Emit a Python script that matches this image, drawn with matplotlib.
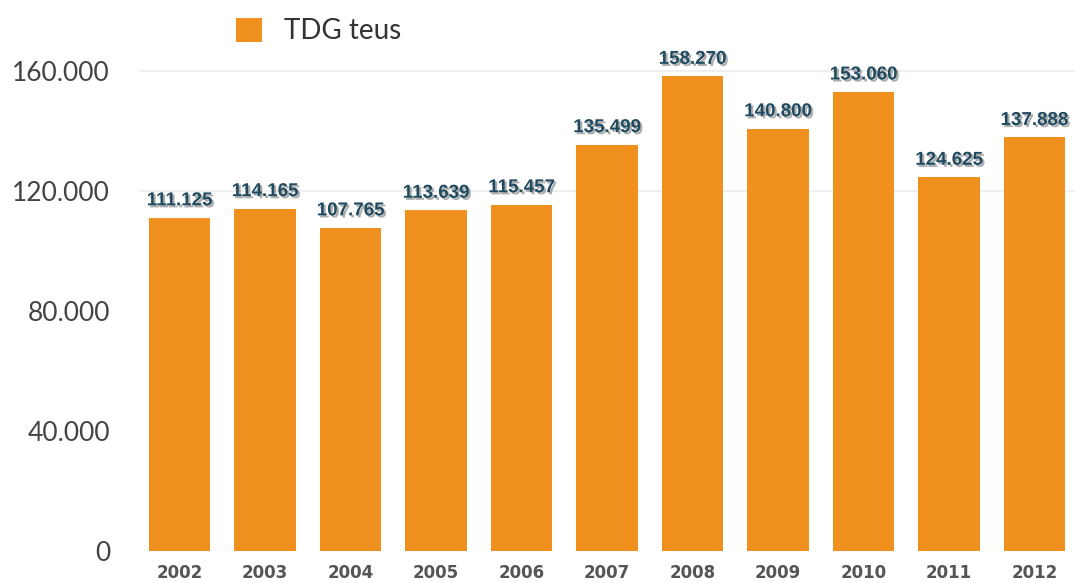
import matplotlib
matplotlib.use("Agg")
import matplotlib.pyplot as plt
import matplotlib.patheffects as pe

years = ["2002", "2003", "2004", "2005", "2006", "2007", "2008", "2009", "2010", "2011", "2012"]
teus = [111125, 114165, 107765, 113639, 115457, 135499, 158270, 140800, 153060, 124625, 137888]
value_labels = ["111.125", "114.165", "107.765", "113.639", "115.457", "135.499",
                "158.270", "140.800", "153.060", "124.625", "137.888"]
y_ticks = [0, 40000, 80000, 120000, 160000]
y_tick_labels = ["0", "40.000", "80.000", "120.000", "160.000"]
grid_levels = [120000, 160000]
series_name = "TDG teus"

W, H = 1075, 583
fig = plt.figure(figsize=(W / 100, H / 100), dpi=100)
ax_left, ax_right = 135, 1075
ax_bottom, ax_top = 551, 41
ax = fig.add_axes([ax_left / W, 1 - ax_bottom / H, (ax_right - ax_left) / W, (ax_bottom - ax_top) / H])

orange = "#F0901F"
x = list(range(len(years)))
for lvl in grid_levels:
    ax.axhline(lvl, xmin=5 / (ax_right - ax_left), color="#ececec", lw=1.2, zorder=0)
bars = ax.bar(x, teus, width=0.725, color=orange, zorder=2, label=series_name)

spacing = 85.5
c0 = 179.5
ax.set_xlim((ax_left - c0) / spacing, (ax_right - c0) / spacing)
ax.set_ylim(0, 170000)

for xi, v, lab in zip(x, teus, value_labels):
    ax.annotate(lab, (xi, v), xytext=(0, 6), textcoords="offset points",
                ha="center", va="bottom", fontsize=13.5, fontweight="bold",
                family=["Liberation Sans", "DejaVu Sans"], color="#1f4a60", zorder=5,
                path_effects=[pe.withSimplePatchShadow(offset=(1.5, -1.5), shadow_rgbFace="#777777", alpha=0.6)])

ax.set_xticks(x)
ax.set_xticklabels(years, fontsize=12, fontweight="bold", color="#555555", family="DejaVu Sans")
ax.set_yticks(y_ticks)
ax.set_yticklabels(y_tick_labels, fontsize=19, color="#444444", family="Lato")
ax.tick_params(axis="both", length=0)
ax.tick_params(axis="x", pad=9)
ax.tick_params(axis="y", pad=18)
for s in ax.spines.values():
    s.set_visible(False)

leg = fig.legend(handles=[bars], labels=[series_name], loc="center left",
                 bbox_to_anchor=(222 / W, 1 - 31 / H), frameon=False, borderpad=0,
                 handlelength=0.95, handleheight=0.95, handletextpad=0.8,
                 prop={"family": "Lato", "size": 20})
for t in leg.get_texts():
    t.set_color("#333333")

fig.savefig("out.png", dpi=100, facecolor="white")
